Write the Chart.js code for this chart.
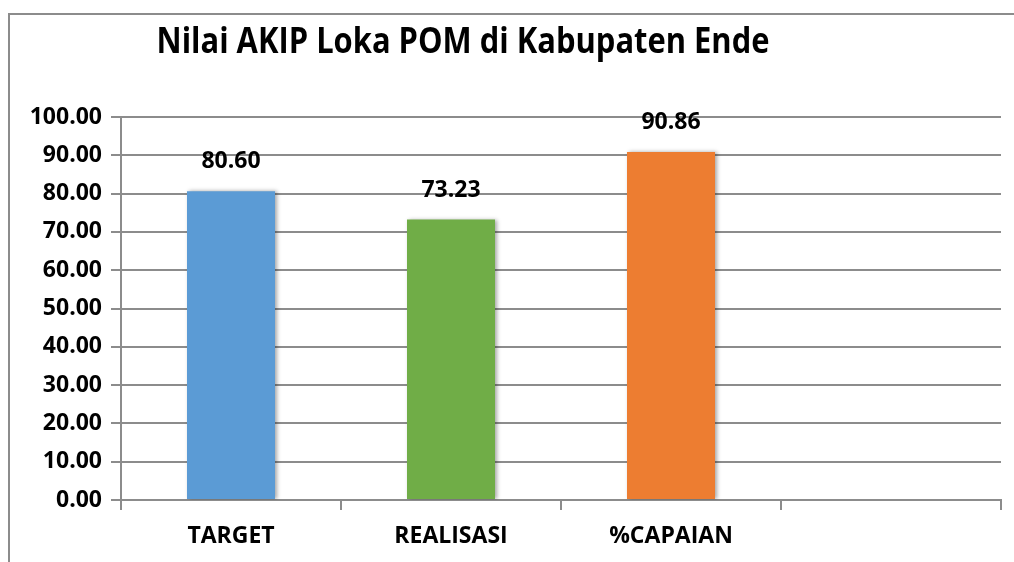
<!DOCTYPE html>
<html>
<head>
<meta charset="utf-8">
<script src="https://cdn.jsdelivr.net/npm/chart.js@4.4.0/dist/chart.umd.min.js"></script>
<style>
  html, body { margin: 0; padding: 0; background: #fff; }
  #wrap { width: 1014px; height: 562px; position: relative; }
</style>
</head>
<body>
<div id="wrap"><canvas id="mycanvas"></canvas></div>
<script>
// data
var categories = ['TARGET', 'REALISASI', '%CAPAIAN', ''];
var nilai = [80.60, 73.23, 90.86, null];
var barColors = ['#5B9BD5', '#70AD47', '#ED7D31', '#A5A5A5'];
var yTicks = [0, 10, 20, 30, 40, 50, 60, 70, 80, 90, 100];
var chartTitle = 'Nilai AKIP Loka POM di Kabupaten Ende';

var FONT = '"Open Sans", Lato, sans-serif';
var gridGrey = '#8c8c8c';

// frame + title, drawn like the excel chart box
var frameAndTitle = {
  id: 'frameAndTitle',
  beforeDraw: function(chart) {
    var c = chart.ctx;
    c.save();
    c.strokeStyle = gridGrey;
    c.lineWidth = 2;
    c.beginPath();
    c.moveTo(9, 600);
    c.lineTo(9, 14);
    c.lineTo(1020, 14);
    c.stroke();
    c.restore();
  },
  afterDraw: function(chart) {
    var c = chart.ctx;
    c.save();
    c.font = 'bold 36px ' + FONT;
    c.fillStyle = '#000';
    c.textAlign = 'center';
    c.textBaseline = 'alphabetic';
    var w = c.measureText(chartTitle).width;
    var target = 613;
    c.translate(463, 53);
    c.scale(target / w, 1);
    c.fillText(chartTitle, 0, 0);
    c.restore();
  }
};

// value labels on top of bars
var valueLabels = {
  id: 'valueLabels',
  afterDatasetsDraw: function(chart) {
    var c = chart.ctx;
    var meta = chart.getDatasetMeta(0);
    c.save();
    c.font = 'bold 23px ' + FONT;
    c.fillStyle = '#000';
    c.textAlign = 'center';
    c.textBaseline = 'alphabetic';
    meta.data.forEach(function(bar, i) {
      if (nilai[i] == null) return;
      c.fillText(nilai[i].toFixed(2), bar.x, bar.y - 23);
    });
    c.restore();
  }
};

// soft excel-like shadow on the bars
var barShadow = {
  id: 'barShadow',
  beforeDatasetsDraw: function(chart) {
    var c = chart.ctx;
    c.save();
    c.shadowColor = 'rgba(0,0,0,0.35)';
    c.shadowBlur = 4;
    c.shadowOffsetX = 2;
    c.shadowOffsetY = 0;
  },
  afterDatasetsDraw: function(chart) {
    chart.ctx.restore();
  }
};

var ctx = document.getElementById('mycanvas');
var barGraph = new Chart(ctx, {
  type: 'bar',
  data: {
    labels: categories,
    datasets: [{
      label: 'Nilai',
      data: nilai,
      backgroundColor: barColors,
      borderWidth: 0,
      barPercentage: 0.8,
      categoryPercentage: 0.5
    }]
  },
  options: {
    responsive: true,
    maintainAspectRatio: false,
    animation: false,
    layout: { padding: { top: 117, right: 13, left: 0, bottom: 0 } },
    plugins: {
      legend: { display: false },
      tooltip: { enabled: false },
      title: { display: false }
    },
    scales: {
      x: {
        afterFit: function(scale) { scale.height = 62; },
        grid: {
          offset: true,
          drawOnChartArea: false,
          drawTicks: true,
          tickLength: 10,
          color: gridGrey,
          lineWidth: 2
        },
        border: { color: gridGrey, width: 2 },
        ticks: {
          color: '#000',
          padding: 13,
          font: { family: FONT, size: 23, weight: 'bold' }
        }
      },
      y: {
        min: 0,
        max: 100,
        afterFit: function(scale) { scale.width = 121; },
        afterBuildTicks: function(scale) {
          scale.ticks = yTicks.map(function(v) { return { value: v }; });
        },
        grid: {
          color: gridGrey,
          lineWidth: 2,
          tickLength: 10
        },
        border: { color: gridGrey, width: 2 },
        ticks: {
          color: '#000',
          padding: 9,
          font: { family: FONT, size: 23, weight: 'bold' },
          callback: function(v) { return Number(v).toFixed(2); }
        }
      }
    }
  },
  plugins: [frameAndTitle, barShadow, valueLabels]
});
</script>
</body>
</html>
